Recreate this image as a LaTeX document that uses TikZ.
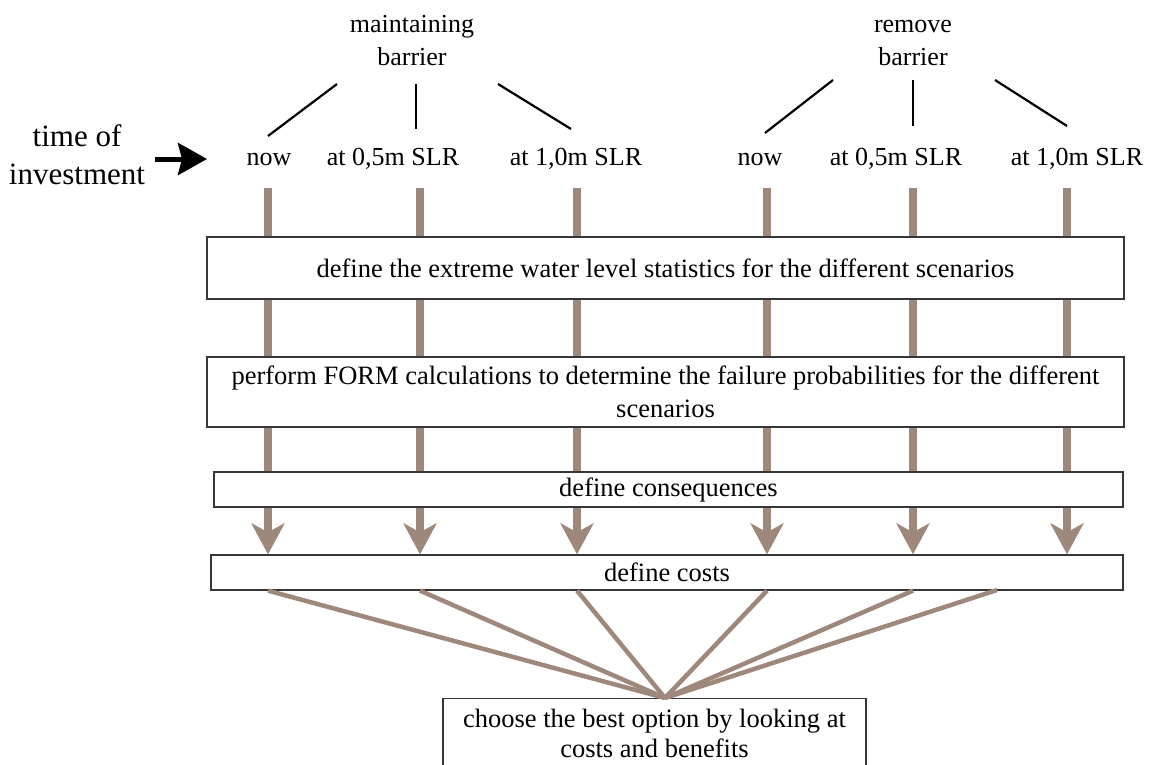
\documentclass[tikz,border=0pt]{standalone}
\usepackage{fontspec}
\setmainfont{Liberation Serif}
\usetikzlibrary{arrows.meta}
\definecolor{barbrown}{RGB}{158,136,124}
\definecolor{boxgray}{RGB}{55,55,55}

\begin{document}
\begin{tikzpicture}[
	x=1pt, y=-1pt,
	bar line/.style={barbrown, line width=8.5pt},
	fan line/.style={barbrown, line width=4.5pt},
	branch line/.style={black, line width=2.2pt},
	step box/.style={draw=boxgray, line width=1.3pt, fill=white, inner sep=0pt, align=center, font=\fontsize{26.5}{33}\selectfont},
	label node/.style={font=\fontsize{26}{33}\selectfont, inner sep=0pt, anchor=base},
	head/.style={-{Stealth[length=31pt, width=33pt, inset=9pt]}}
	]
	\clip (0,0) rectangle (1153,765);
	
	% options at the top
	\node[label node, align=center] (maint) at (412,66) {maintaining\\barrier};
	\node[label node, align=center] (remove) at (913,66) {remove\\barrier};
	\node[label node, align=center, font=\fontsize{31}{38}\selectfont] (time) at (77,184) {time of\\investment};
	
	\node[label node] (mnow) at (269,165) {now};
	\node[label node] (m05) at (393,165) {at 0,5m SLR};
	\node[label node] (m10) at (576,165) {at 1,0m SLR};
	\node[label node] (rnow) at (760,165) {now};
	\node[label node] (r05) at (896,165) {at 0,5m SLR};
	\node[label node] (r10) at (1077,165) {at 1,0m SLR};
	
	% steps
	\node[step box, minimum width=917pt, minimum height=62pt] (ewl) at (665.5,268) {define the extreme water level statistics for the different scenarios};
	\node[step box, minimum width=917pt, minimum height=70pt] (form) at (665.5,392) {perform FORM calculations to determine the failure probabilities for the different\\scenarios};
	\node[step box, minimum width=909pt, minimum height=35pt] (cons) at (668.5,489.5) {define consequences};
	\node[step box, minimum width=912pt, minimum height=35pt] (costs) at (667,572.5) {define costs};
	\node[step box, minimum width=423pt, inner ysep=10pt, anchor=north, font=\fontsize{26.5}{30}\selectfont] (choose) at (654.5,698) {choose the best option by looking at\\costs and benefits\\\mbox{}};
	
	% branches
	\coordinate (mtopl) at (337,84);
	\coordinate (mtopc) at (416,84);
	\coordinate (mtopr) at (498,84);
	\coordinate (rtopl) at (833,80);
	\coordinate (rtopc) at (913,80);
	\coordinate (rtopr) at (995,80);
	\draw[branch line] (mtopl) -- (268,136);
	\draw[branch line] (mtopc) -- (416,129);
	\draw[branch line] (mtopr) -- (571,129);
	\draw[branch line] (rtopl) -- (765,133);
	\draw[branch line] (rtopc) -- (913,126);
	\draw[branch line] (rtopr) -- (1067,126);
	
	\draw[black, line width=5pt, -{Stealth[length=29pt, width=32pt, inset=4pt]}] (time.east |- 0,159) ++(10,0) coordinate (tstart) -- (207,159) coordinate (tend);
	
	% columns
	\coordinate (c1) at (268,188);
	\coordinate (c2) at (420,188);
	\coordinate (c3) at (577,188);
	\coordinate (c4) at (767,188);
	\coordinate (c5) at (913,188);
	\coordinate (c6) at (1067,188);
	\newcommand{\drawcol}[1]{
		\draw[bar line] (#1) -- (#1 |- ewl.north);
		\draw[bar line] (#1 |- ewl.south) -- (#1 |- form.north);
		\draw[bar line] (#1 |- form.south) -- (#1 |- cons.north);
		\draw[bar line, head] (#1 |- cons.south) -- (#1 |- costs.north);
	}
	\drawcol{c1}
	\drawcol{c2}
	\drawcol{c3}
	\drawcol{c4}
	\drawcol{c5}
	\drawcol{c6}
	
	% towards the choice
	\coordinate (meet) at (665,698);
	\coordinate (f6) at (997,590);
	\draw[fan line] (c1 |- costs.south) -- (meet);
	\draw[fan line] (c2 |- costs.south) -- (meet);
	\draw[fan line] (c3 |- costs.south) -- (meet);
	\draw[fan line] (c4 |- costs.south) -- (meet);
	\draw[fan line] (c5 |- costs.south) -- (meet);
	\draw[fan line] (f6) -- (meet);
\end{tikzpicture}
\end{document}
